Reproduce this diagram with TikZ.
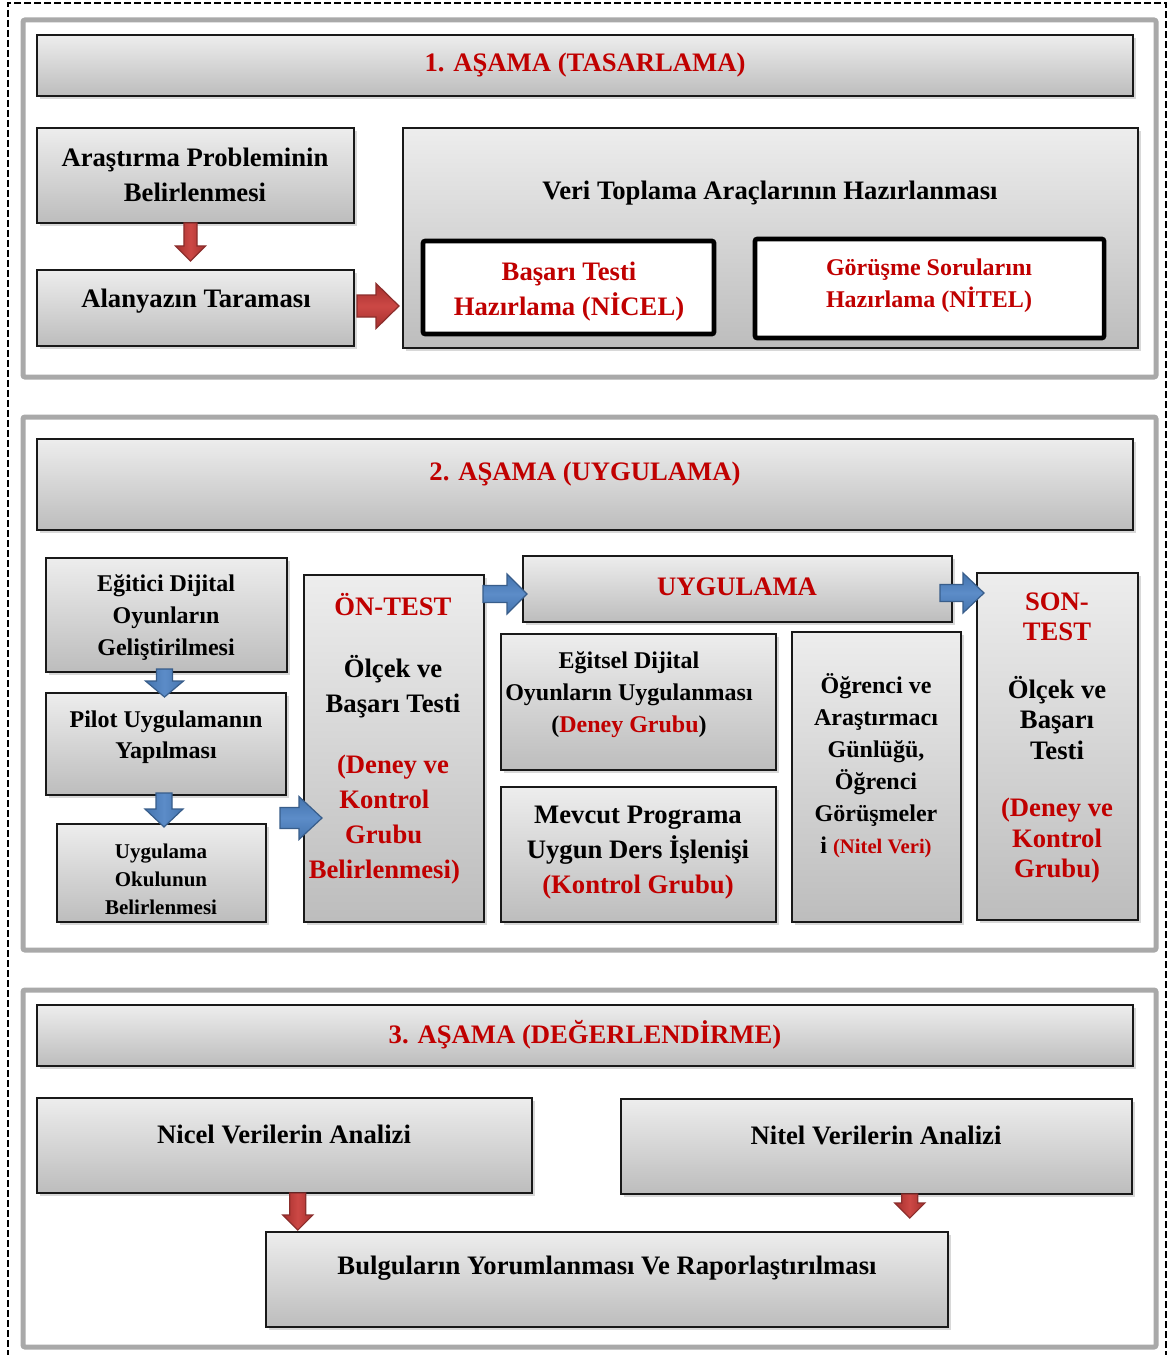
\documentclass[tikz,border=0pt]{standalone}
\usepackage{fontspec}
\setmainfont{Liberation Serif}
\usetikzlibrary{calc,fit,shadows}
\definecolor{rtxt}{HTML}{C00000}
\definecolor{framegray}{HTML}{A9A9A9}
\definecolor{redfill}{HTML}{CC4845}
\definecolor{reddark}{HTML}{A52F2D}
\definecolor{redline}{HTML}{8B2E2C}
\definecolor{bluefill}{HTML}{5C8CC8}
\definecolor{bluedark}{HTML}{4474AE}
\definecolor{blueline}{HTML}{385D8A}
\newcommand\fsA{\bfseries\fontsize{20}{26.25}\selectfont}
\newcommand\fsB{\bfseries\fontsize{18}{24}\selectfont}
\newcommand\fsC{\bfseries\fontsize{15.75}{21}\selectfont}
\begin{document}
\begin{tikzpicture}[x=0.75pt,y=-0.75pt,
  outerframe/.style={draw=black, line width=1.4pt, dash pattern=on 5pt off 2.5pt, inner sep=0pt, outer sep=0pt},
  frame/.style={draw=framegray, line width=3.75pt, rounded corners=1.5pt, inner sep=0pt, outer sep=0pt},
  box/.style={draw=black!90, line width=1.2pt, top color=black!7, bottom color=black!26,
     drop shadow={shadow xshift=2pt, shadow yshift=-2.5pt, opacity=0.3}, inner sep=0pt, outer sep=0pt},
  wbox/.style={draw=black, line width=3.4pt, fill=white, rounded corners=1.5pt, inner sep=0pt, outer sep=0pt},
  txt/.style={align=center, inner sep=0pt, font=\fsA, yshift=-2.25pt},
  rtx/.style={txt, text=rtxt},
  varrow/.style n args={3}{to path={let \p1=(\tikztostart), \p2=(\tikztotarget) in
     (\x1-#1,\y1) -- (\x1-#1,\y2+#3) -- (\x1-#2,\y2+#3) -- (\x1,\y2) -- (\x1+#2,\y2+#3) -- (\x1+#1,\y2+#3) -- (\x1+#1,\y1) -- cycle}},
  harrow/.style n args={3}{to path={let \p1=(\tikztostart), \p2=(\tikztotarget) in
     (\x1,\y1+#1) -- (\x2-#3,\y1+#1) -- (\x2-#3,\y1+#2) -- (\x2,\y1) -- (\x2-#3,\y1-#2) -- (\x2-#3,\y1-#1) -- (\x1,\y1-#1) -- cycle}},
  redV/.style={draw=redline, line width=0.9pt, left color=reddark, right color=reddark, middle color=redfill},
  redH/.style={draw=redline, line width=0.9pt, top color=reddark, bottom color=reddark, middle color=redfill},
  blueV/.style={draw=blueline, line width=0.9pt, left color=bluedark, right color=bluedark, middle color=bluefill},
  blueH/.style={draw=blueline, line width=0.9pt, top color=bluedark, bottom color=bluedark, middle color=bluefill}
]
\useasboundingbox (0,0) rectangle (1169,1355);
\fill[white] (0,0) rectangle (1169,1355);

% outer dashed frame and section frames
\node[outerframe, fit={(8,3) (1166,1380)}] (outer) {};
\node[frame, fit={(23,20) (1156,377)}] (s1) {};
\node[frame, fit={(23,417) (1156,950)}] (s2) {};
\node[frame, fit={(23,990) (1156,1347)}] (s3) {};

% section 1 boxes
\node[box, fit={(37,35) (1133,96)}] (t1) {};
\node[box, fit={(37,128) (354,223)}] (a1) {};
\node[box, fit={(37,270) (354,346)}] (a2) {};
\node[box, fit={(403,128) (1138,348)}] (v) {};
\node[wbox, fit={(423,241) (714,334)}] (w1) {};
\node[wbox, fit={(755,239) (1104,338)}] (w2) {};

% section 2 boxes
\node[box, fit={(37,439) (1133,530)}] (t2) {};
\node[box, fit={(46,558) (287,672)}] (e1) {};
\node[box, fit={(46,693) (286,795)}] (e2) {};
\node[box, fit={(57,824) (266,922)}] (e3) {};
\node[box, fit={(304,575) (484,922)}] (on) {};
\node[box, fit={(523,556) (952,622)}] (uy) {};
\node[box, fit={(977,573) (1138,920)}] (son) {};
\node[box, fit={(501,634) (776,770)}] (eg) {};
\node[box, fit={(501,787) (776,922)}] (mv) {};
\node[box, fit={(792,632) (961,922)}] (og) {};

% section 3 boxes
\node[box, fit={(37,1005) (1133,1066)}] (t3) {};
\node[box, fit={(37,1098) (532,1193)}] (ni) {};
\node[box, fit={(621,1099) (1132,1194)}] (nt) {};
\node[box, fit={(266,1232) (948,1327)}] (bu) {};

% arrows
\draw[redV, varrow={4.9pt}{11.25pt}{11.25pt}] ([xshift=-3.75pt]a1.south) to ([yshift=6.75pt]a2.north);
\draw[redH, harrow={8.25pt}{16.9pt}{17.25pt}] ([xshift=2.25pt,yshift=1.5pt]a2.east) to ([xshift=-3pt]v.west);
\draw[blueV, varrow={6pt}{14.25pt}{12pt}] ([xshift=-1.5pt,yshift=2.25pt]e1.south) to ([yshift=-3pt]e2.north);
\draw[blueV, varrow={6pt}{14.25pt}{13.5pt}] ([xshift=-1.5pt,yshift=1.5pt]e2.south) to ([yshift=-2.25pt]e3.north);
\coordinate (bs) at (280,818);
\draw[blueH, harrow={7.9pt}{16.1pt}{17.25pt}] (bs) to ([xshift=13.5pt]on.west);
\draw[blueH, harrow={6.4pt}{15pt}{15pt}] ([xshift=-0.75pt,yshift=-14.25pt]on.north east) to ([xshift=3pt]uy.west);
\draw[blueH, harrow={6.4pt}{15pt}{15.75pt}] ([xshift=-9pt,yshift=-3pt]uy.east) to ([xshift=5.25pt]son.west);
\draw[redV, varrow={6pt}{11.25pt}{11.25pt}] ([xshift=10pt]ni.south) to ([yshift=1.5pt]bu.north);
\draw[redV, varrow={6pt}{11.25pt}{11.25pt}] ([xshift=25pt]nt.south) to ([yshift=10.5pt]bu.north);

% texts section 1
\node[rtx] (t1t) at (585,62) {1. AŞAMA (TASARLAMA)};
\node[txt] (a1t) at (195,172) {Araştırma Probleminin\\Belirlenmesi};
\node[txt] (a2t) at (196,298) {Alanyazın Taraması};
\node[txt] (vt) at (770,190) {Veri Toplama Araçlarının Hazırlanması};
\node[rtx] (w1t) at (569,289) {Başarı Testi\\Hazırlama (NİCEL)};
\node[rtx, font=\fsB] (w2t) at (929,283) {Görüşme Sorularını\\Hazırlama (NİTEL)};

% texts section 2
\node[rtx] (t2t) at (585,471) {2. AŞAMA (UYGULAMA)};
\node[txt, font=\fsB] (e1t) at (166,615) {Eğitici Dijital\\Oyunların\\Geliştirilmesi};
\node[txt, font=\bfseries\fontsize{18}{23.25}\selectfont] (e2t) at (166,734) {Pilot Uygulamanın\\Yapılması};
\node[txt, font=\fsC] (e3t) at (161,876) {Uygulama\\Okulunun\\Belirlenmesi};
\node[txt] (ont) at (393,736) {\textcolor{rtxt}{ÖN-TEST}\\[20pt]Ölçek ve\\Başarı Testi\\[20pt]
  \textcolor{rtxt}{(Deney ve}\\\textcolor{rtxt}{Kontrol}\kern13pt\\\textcolor{rtxt}{Grubu}\kern14pt\\\textcolor{rtxt}{Belirlenmesi)}\kern13pt};
\node[rtx] (uyt) at (737,584) {UYGULAMA};
\node[txt, font=\fsB] (egt) at (629,692) {Eğitsel Dijital\\Oyunların Uygulanması\\(\textcolor{rtxt}{Deney Grubu})};
\node[txt] (mvt) at (638,850) {Mevcut Programa\\Uygun Ders İşlenişi\\\textcolor{rtxt}{(Kontrol Grubu)}};
\node[txt, font=\fsB] (ogt) at (876,763) {Öğrenci ve\\Araştırmacı\\Günlüğü,\\Öğrenci\\Görüşmeler\\i {\color{rtxt}\fontsize{15.5}{24}\selectfont(Nitel Veri)}};
\node[txt, font=\bfseries\fontsize{20}{22.9}\selectfont] (sont) at (1057,735) {\textcolor{rtxt}{SON-}\\\textcolor{rtxt}{TEST}\\[20pt]Ölçek ve\\Başarı\\Testi\\[20pt]
  \textcolor{rtxt}{(Deney ve}\\\textcolor{rtxt}{Kontrol}\\\textcolor{rtxt}{Grubu)}};

% texts section 3
\node[rtx] (t3t) at (585,1032) {3. AŞAMA (DEĞERLENDİRME)};
\node[txt] (nit) at (284,1131) {Nicel Verilerin Analizi};
\node[txt] (ntt) at (876,1132) {Nitel Verilerin Analizi};
\node[txt] (but) at (607,1265) {Bulguların Yorumlanması Ve Raporlaştırılması};
\end{tikzpicture}
\end{document}
